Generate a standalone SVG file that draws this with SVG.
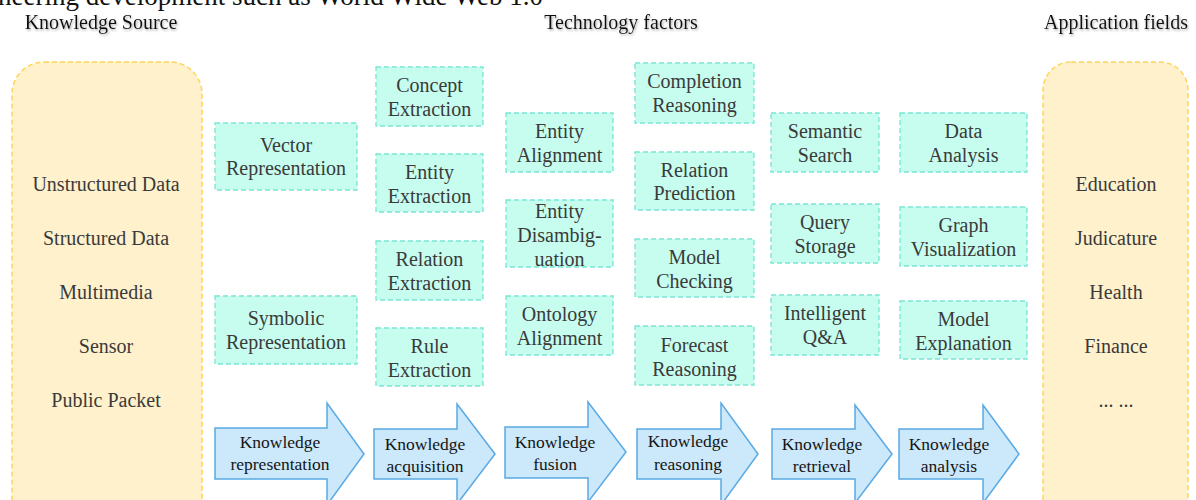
<svg xmlns="http://www.w3.org/2000/svg" width="1196" height="500" viewBox="0 0 1196 500">
<defs>
<style>
.t{font-family:"Liberation Serif","Times New Roman",serif;font-size:20px;fill:#3a3a3a;text-anchor:middle}
.h{font-family:"Liberation Serif","Times New Roman",serif;font-size:20px;fill:#111;text-anchor:middle}
.a{font-family:"Liberation Serif","Times New Roman",serif;font-size:17.5px;fill:#151515;text-anchor:middle}
.g{fill:#c6fdef;stroke:#78e6d2;stroke-width:1.3;stroke-dasharray:5 3}
.y{fill:#fff1cc;stroke:#ffd45a;stroke-width:1.5;stroke-dasharray:5 3}
.b{fill:#cce8fb;stroke:#5aa9e4;stroke-width:1.5}
</style>
<filter id="sh" x="-5%" y="-30%" width="110%" height="160%"><feDropShadow dx="1" dy="1.5" stdDeviation="0.8" flood-color="#888" flood-opacity="0.7"/></filter>
</defs>
<rect width="1196" height="500" fill="#fff"/>
<text x="-2" y="5" font-family="Liberation Serif, serif" font-size="27" fill="#111">neering development such as World Wide Web 1.0</text>
<g id="headers" filter="url(#sh)">
<text class="h" x="101" y="29">Knowledge Source</text>
<text class="h" x="621" y="29">Technology factors</text>
<text class="h" x="1116" y="29">Application fields</text>
</g>
<g id="source">
<rect class="y" x="12" y="62" width="190" height="470" rx="32"/>
<text class="t" x="106" y="191">Unstructured Data</text>
<text class="t" x="106" y="245">Structured Data</text>
<text class="t" x="106" y="299">Multimedia</text>
<text class="t" x="106" y="353">Sensor</text>
<text class="t" x="106" y="407">Public Packet</text>
</g>
<g id="applications">
<rect class="y" x="1043" y="62" width="145" height="470" rx="28"/>
<text class="t" x="1116" y="191">Education</text>
<text class="t" x="1116" y="245">Judicature</text>
<text class="t" x="1116" y="299">Health</text>
<text class="t" x="1116" y="353">Finance</text>
<text class="t" x="1116" y="407">... ...</text>
</g>
<g id="vector"><rect class="g" x="215" y="123" width="142" height="67"/><text class="t" x="286" y="152">Vector</text><text class="t" x="286" y="175">Representation</text></g>
<g id="symbolic"><rect class="g" x="215" y="296" width="142" height="68"/><text class="t" x="286" y="325">Symbolic</text><text class="t" x="286" y="349">Representation</text></g>
<g id="concept"><rect class="g" x="376" y="67" width="107" height="59"/><text class="t" x="429.5" y="92">Concept</text><text class="t" x="429.5" y="116">Extraction</text></g>
<g id="entity-ex"><rect class="g" x="376" y="154" width="107" height="58"/><text class="t" x="429.5" y="179">Entity</text><text class="t" x="429.5" y="203">Extraction</text></g>
<g id="relation-ex"><rect class="g" x="376" y="241" width="107" height="59"/><text class="t" x="429.5" y="266">Relation</text><text class="t" x="429.5" y="290">Extraction</text></g>
<g id="rule-ex"><rect class="g" x="376" y="328" width="107" height="58"/><text class="t" x="429.5" y="353">Rule</text><text class="t" x="429.5" y="377">Extraction</text></g>
<g id="entity-al"><rect class="g" x="506" y="113" width="107" height="59"/><text class="t" x="559.5" y="138">Entity</text><text class="t" x="559.5" y="162">Alignment</text></g>
<g id="entity-dis"><rect class="g" x="506" y="200" width="107" height="67"/><text class="t" x="559.5" y="218">Entity</text><text class="t" x="559.5" y="242">Disambig-</text><text class="t" x="559.5" y="266">uation</text></g>
<g id="ontology"><rect class="g" x="506" y="296" width="107" height="59"/><text class="t" x="559.5" y="321">Ontology</text><text class="t" x="559.5" y="345">Alignment</text></g>
<g id="completion"><rect class="g" x="635" y="63" width="119" height="60"/><text class="t" x="694.5" y="88">Completion</text><text class="t" x="694.5" y="112">Reasoning</text></g>
<g id="relation-pred"><rect class="g" x="635" y="152" width="119" height="58"/><text class="t" x="694.5" y="177">Relation</text><text class="t" x="694.5" y="200">Prediction</text></g>
<g id="model-check"><rect class="g" x="635" y="239" width="119" height="58"/><text class="t" x="694.5" y="264">Model</text><text class="t" x="694.5" y="288">Checking</text></g>
<g id="forecast"><rect class="g" x="635" y="326" width="119" height="59"/><text class="t" x="694.5" y="352">Forecast</text><text class="t" x="694.5" y="376">Reasoning</text></g>
<g id="semantic"><rect class="g" x="771" y="113" width="108" height="59"/><text class="t" x="825" y="138">Semantic</text><text class="t" x="825" y="162">Search</text></g>
<g id="query"><rect class="g" x="771" y="204" width="108" height="59"/><text class="t" x="825" y="229">Query</text><text class="t" x="825" y="253">Storage</text></g>
<g id="qa"><rect class="g" x="771" y="295" width="108" height="60"/><text class="t" x="825" y="320">Intelligent</text><text class="t" x="825" y="344">Q&amp;A</text></g>
<g id="data-an"><rect class="g" x="900" y="113" width="127" height="59"/><text class="t" x="963.5" y="138">Data</text><text class="t" x="963.5" y="162">Analysis</text></g>
<g id="graph-vis"><rect class="g" x="900" y="207" width="127" height="59"/><text class="t" x="963.5" y="232">Graph</text><text class="t" x="963.5" y="256">Visualization</text></g>
<g id="model-exp"><rect class="g" x="900" y="301" width="127" height="58"/><text class="t" x="963.5" y="326">Model</text><text class="t" x="963.5" y="350">Explanation</text></g>
<g id="connectors">
<g id="arrow-representation"><polygon class="b" points="215,428 327,428 327,403 364,454 327,505 327,479 215,479"/><text class="a" x="280" y="448">Knowledge</text><text class="a" x="280" y="470">representation</text></g>
<g id="arrow-acquisition"><polygon class="b" points="374,429 457,429 457,404 495,454 457,504 457,479 374,479"/><text class="a" x="425" y="450">Knowledge</text><text class="a" x="425" y="472">acquisition</text></g>
<g id="arrow-fusion"><polygon class="b" points="505,427 588,427 588,402 626,452 588,502 588,478 505,478"/><text class="a" x="555" y="448">Knowledge</text><text class="a" x="555" y="470">fusion</text></g>
<g id="arrow-reasoning"><polygon class="b" points="637,429 721,429 721,403 758,454 721,505 721,479 637,479"/><text class="a" x="688" y="447">Knowledge</text><text class="a" x="688" y="470">reasoning</text></g>
<g id="arrow-retrieval"><polygon class="b" points="772,429 855,429 855,405 892,454 855,503 855,479 772,479"/><text class="a" x="822" y="450">Knowledge</text><text class="a" x="822" y="472">retrieval</text></g>
<g id="arrow-analysis"><polygon class="b" points="899,429 983,429 983,405 1019,454 983,503 983,479 899,479"/><text class="a" x="949" y="450">Knowledge</text><text class="a" x="949" y="472">analysis</text></g>
</g>
</svg>
